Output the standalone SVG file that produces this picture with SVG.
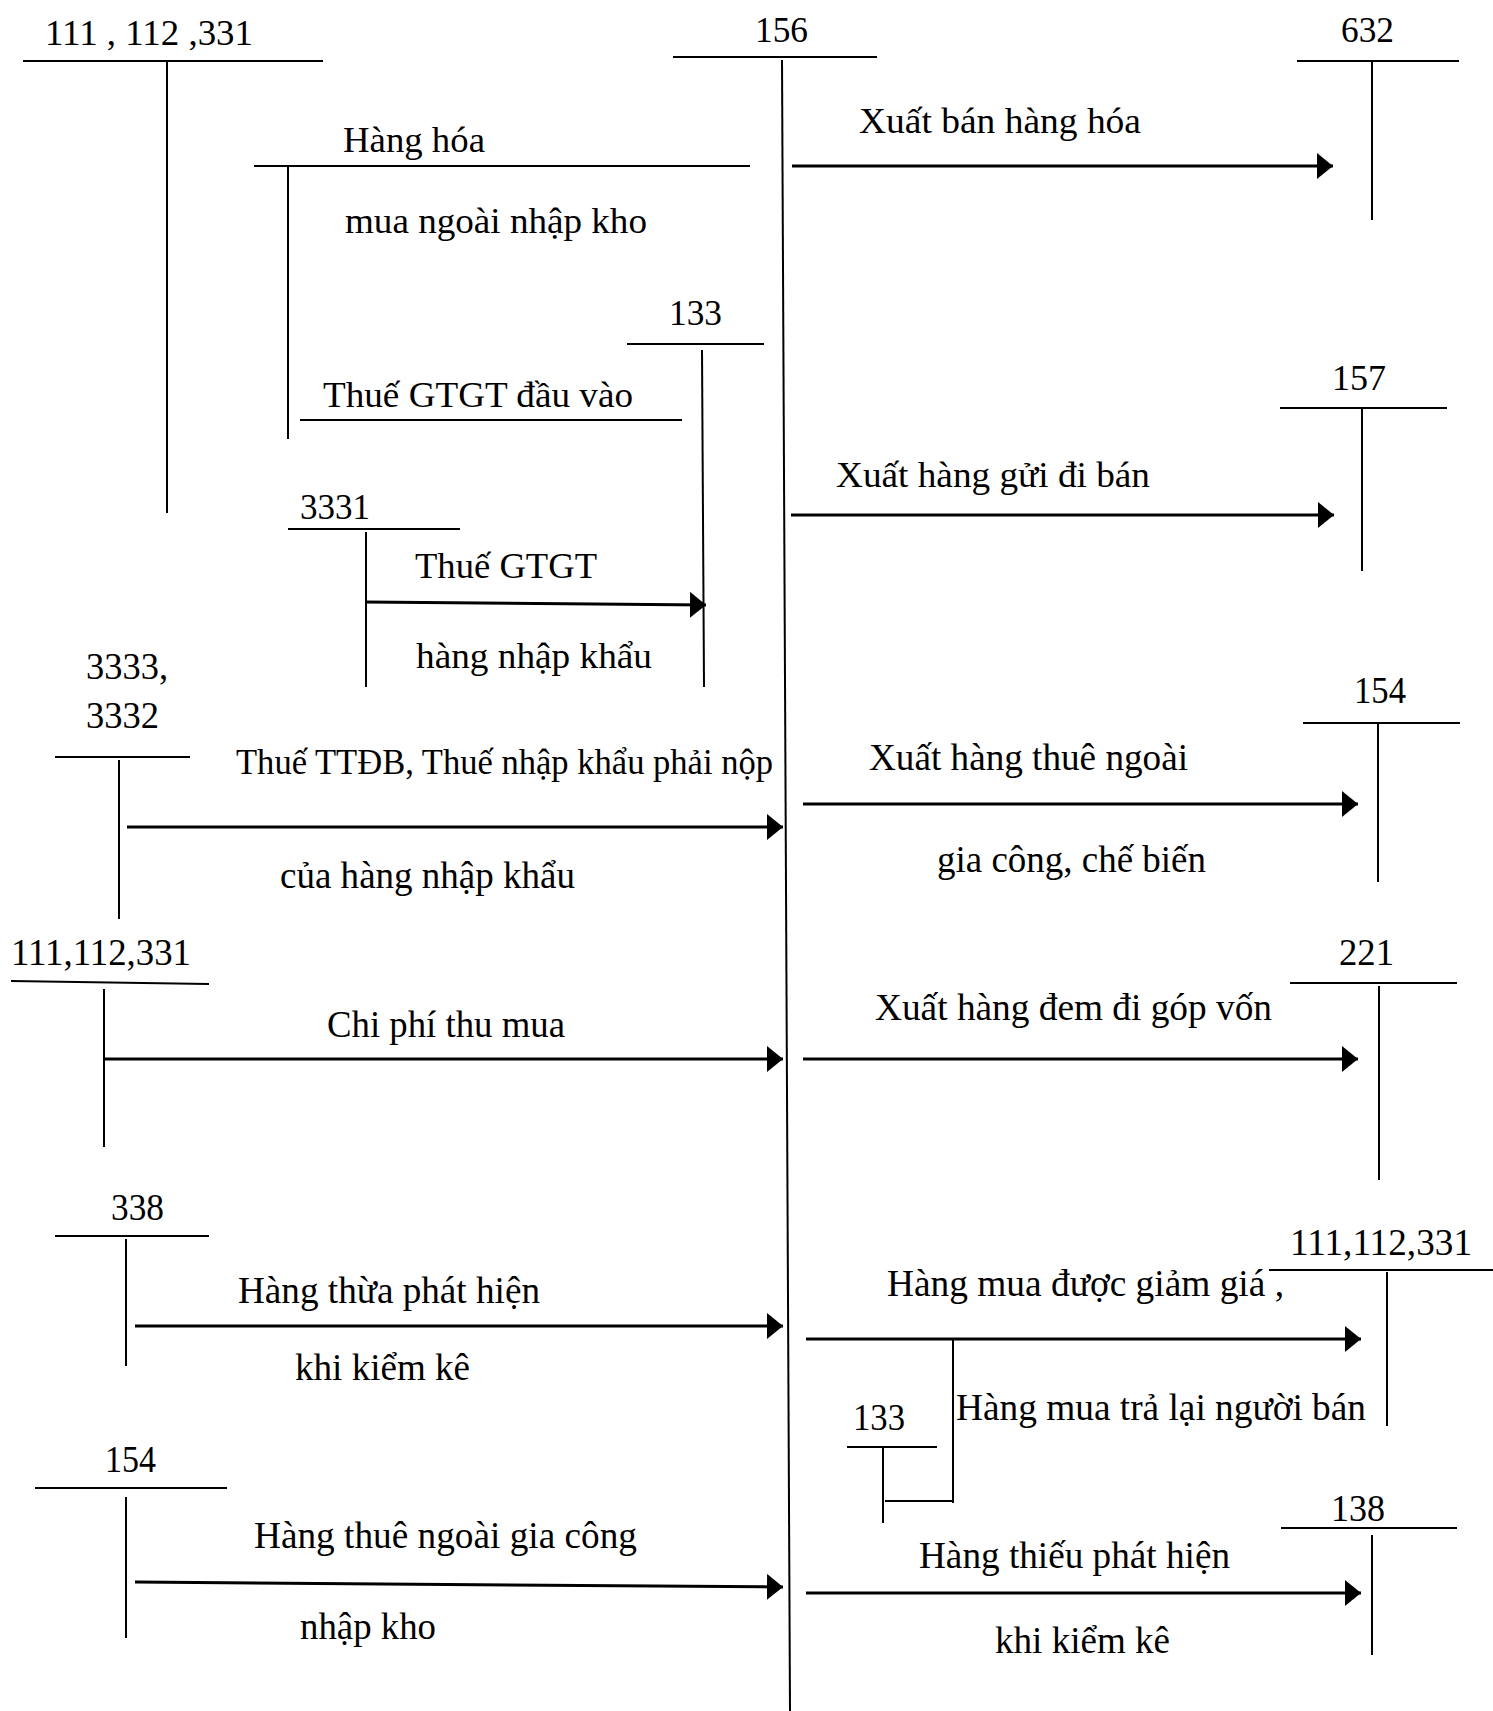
<svg xmlns="http://www.w3.org/2000/svg" width="1493" height="1711" viewBox="0 0 1493 1711">
<style>
text{font-family:"Liberation Serif","Times New Roman",serif;font-size:36px;fill:#000}
.lo{font-size:38px}
.sm{font-size:35px}
.t{stroke:#000;stroke-width:2;fill:none}
.a{stroke:#000;stroke-width:3;fill:none;marker-end:url(#ah)}
.c{stroke:#000;stroke-width:2;fill:none}
</style>
<defs>
<marker id="ah" markerUnits="userSpaceOnUse" markerWidth="16" markerHeight="26" refX="16" refY="13" orient="auto" viewBox="0 0 16 26">
<path d="M0,0 L16,13 L0,26 Z" fill="#000"/>
</marker>
</defs>
<rect width="1493" height="1711" fill="#fff"/>

<g id="acc-111-112-331-top">
<text x="45" y="45" textLength="208" lengthAdjust="spacingAndGlyphs">111 , 112 ,331</text>
<line class="t" x1="23" y1="61" x2="323" y2="61"/>
<line class="t" x1="167" y1="61" x2="167" y2="513"/>
</g>
<g id="acc-156">
<text x="755" y="42" textLength="53" lengthAdjust="spacingAndGlyphs">156</text>
<line class="t" x1="673" y1="57" x2="877" y2="57"/>
<line class="t" x1="782" y1="60" x2="790" y2="1711"/>
</g>
<g id="acc-632">
<text x="1341" y="42" textLength="53" lengthAdjust="spacingAndGlyphs">632</text>
<line class="t" x1="1297" y1="61" x2="1459" y2="61"/>
<line class="t" x1="1372" y1="61" x2="1372" y2="220"/>
</g>
<g id="acc-133-top">
<text x="669" y="325" textLength="53" lengthAdjust="spacingAndGlyphs">133</text>
<line class="t" x1="627" y1="344" x2="764" y2="344"/>
<line class="t" x1="702" y1="350" x2="704" y2="687"/>
</g>
<g id="acc-157">
<text x="1332" y="390" textLength="54" lengthAdjust="spacingAndGlyphs">157</text>
<line class="t" x1="1280" y1="408" x2="1447" y2="408"/>
<line class="t" x1="1362" y1="408" x2="1362" y2="571"/>
</g>
<g id="acc-3331">
<text x="300" y="519" textLength="70" lengthAdjust="spacingAndGlyphs">3331</text>
<line class="t" x1="288" y1="529" x2="460" y2="529"/>
<line class="t" x1="366" y1="532" x2="366" y2="687"/>
</g>
<g id="acc-3333-3332">
<text class="lo" x="86" y="679" textLength="82" lengthAdjust="spacingAndGlyphs">3333,</text>
<text class="lo" x="86" y="728" textLength="73" lengthAdjust="spacingAndGlyphs">3332</text>
<line class="t" x1="55" y1="757" x2="190" y2="757"/>
<line class="t" x1="119" y1="760" x2="119" y2="919"/>
</g>
<g id="acc-154-right">
<text class="lo" x="1354" y="703" textLength="52" lengthAdjust="spacingAndGlyphs">154</text>
<line class="t" x1="1303" y1="723" x2="1460" y2="723"/>
<line class="t" x1="1378" y1="723" x2="1378" y2="882"/>
</g>
<g id="acc-111-112-331-mid">
<text class="lo" x="11" y="965" textLength="180" lengthAdjust="spacingAndGlyphs">111,112,331</text>
<line class="t" x1="11" y1="981" x2="209" y2="984"/>
<line class="t" x1="104" y1="989" x2="104" y2="1147"/>
</g>
<g id="acc-221">
<text class="lo" x="1339" y="965" textLength="55" lengthAdjust="spacingAndGlyphs">221</text>
<line class="t" x1="1290" y1="983" x2="1457" y2="983"/>
<line class="t" x1="1379" y1="986" x2="1379" y2="1180"/>
</g>
<g id="acc-338">
<text class="lo" x="111" y="1220" textLength="53" lengthAdjust="spacingAndGlyphs">338</text>
<line class="t" x1="55" y1="1236" x2="209" y2="1236"/>
<line class="t" x1="126" y1="1239" x2="126" y2="1366"/>
</g>
<g id="acc-111-112-331-right">
<text class="lo" x="1290" y="1255" textLength="182" lengthAdjust="spacingAndGlyphs">111,112,331</text>
<line class="t" x1="1269" y1="1270" x2="1493" y2="1270"/>
<line class="t" x1="1387" y1="1272" x2="1387" y2="1426"/>
</g>
<g id="acc-133-bottom">
<text class="lo" x="853" y="1430" textLength="52" lengthAdjust="spacingAndGlyphs">133</text>
<line class="t" x1="847" y1="1447" x2="937" y2="1447"/>
<line class="t" x1="883" y1="1447" x2="883" y2="1523"/>
</g>
<g id="acc-154-left">
<text class="lo" x="105" y="1472" textLength="51" lengthAdjust="spacingAndGlyphs">154</text>
<line class="t" x1="35" y1="1488" x2="227" y2="1488"/>
<line class="t" x1="126" y1="1497" x2="126" y2="1638"/>
</g>
<g id="acc-138">
<text class="lo" x="1331" y="1521" textLength="54" lengthAdjust="spacingAndGlyphs">138</text>
<line class="t" x1="1281" y1="1528" x2="1457" y2="1528"/>
<line class="t" x1="1372" y1="1535" x2="1372" y2="1655"/>
</g>

<g id="connectors">
<line class="c" x1="254" y1="166" x2="750" y2="166"/>
<line class="c" x1="288" y1="166" x2="288" y2="439"/>
<line class="c" x1="300" y1="420" x2="682" y2="420"/>
<line class="a" x1="792" y1="166" x2="1333" y2="166"/>
<line class="a" x1="791" y1="515" x2="1334" y2="515"/>
<line class="a" x1="365" y1="602" x2="706" y2="605"/>
<line class="a" x1="127" y1="827" x2="783" y2="827"/>
<line class="a" x1="803" y1="804" x2="1358" y2="804"/>
<line class="a" x1="104" y1="1059" x2="783" y2="1059"/>
<line class="a" x1="803" y1="1059" x2="1358" y2="1059"/>
<line class="a" x1="135" y1="1326" x2="783" y2="1326"/>
<line class="a" x1="806" y1="1339" x2="1361" y2="1339"/>
<line class="c" x1="953" y1="1339" x2="953" y2="1503"/>
<line class="c" x1="885" y1="1501" x2="953" y2="1501"/>
<line class="a" x1="806" y1="1593" x2="1361" y2="1593"/>
<line class="a" x1="135" y1="1582" x2="783" y2="1587"/>
</g>

<g id="labels">
<text x="343" y="152" textLength="142" lengthAdjust="spacingAndGlyphs">Hàng hóa</text>
<text x="345" y="233" textLength="302" lengthAdjust="spacingAndGlyphs">mua ngoài nhập kho</text>
<text x="323" y="407" textLength="310" lengthAdjust="spacingAndGlyphs">Thuế GTGT đầu vào</text>
<text x="859" y="133" textLength="282" lengthAdjust="spacingAndGlyphs">Xuất bán hàng hóa</text>
<text x="836" y="487" textLength="314" lengthAdjust="spacingAndGlyphs">Xuất hàng gửi đi bán</text>
<text x="415" y="578" textLength="182" lengthAdjust="spacingAndGlyphs">Thuế GTGT</text>
<text x="416" y="668" textLength="236" lengthAdjust="spacingAndGlyphs">hàng nhập khẩu</text>
<text class="sm" x="236" y="774" textLength="537" lengthAdjust="spacingAndGlyphs">Thuế TTĐB, Thuế nhập khẩu phải nộp</text>
<text class="lo" x="280" y="888" textLength="295" lengthAdjust="spacingAndGlyphs">của hàng nhập khẩu</text>
<text class="lo" x="869" y="770" textLength="319" lengthAdjust="spacingAndGlyphs">Xuất hàng thuê ngoài</text>
<text class="lo" x="937" y="872" textLength="269" lengthAdjust="spacingAndGlyphs">gia công, chế biến</text>
<text class="lo" x="327" y="1037" textLength="238" lengthAdjust="spacingAndGlyphs">Chi phí thu mua</text>
<text class="lo" x="875" y="1020" textLength="397" lengthAdjust="spacingAndGlyphs">Xuất hàng đem đi góp vốn</text>
<text class="lo" x="238" y="1303" textLength="302" lengthAdjust="spacingAndGlyphs">Hàng thừa phát hiện</text>
<text class="lo" x="295" y="1380" textLength="175" lengthAdjust="spacingAndGlyphs">khi kiểm kê</text>
<text class="lo" x="887" y="1296" textLength="397" lengthAdjust="spacingAndGlyphs">Hàng mua được giảm giá ,</text>
<text class="lo" x="956" y="1420" textLength="410" lengthAdjust="spacingAndGlyphs">Hàng mua trả lại người bán</text>
<text class="lo" x="919" y="1568" textLength="311" lengthAdjust="spacingAndGlyphs">Hàng thiếu phát hiện</text>
<text class="lo" x="995" y="1653" textLength="175" lengthAdjust="spacingAndGlyphs">khi kiểm kê</text>
<text class="lo" x="254" y="1548" textLength="383" lengthAdjust="spacingAndGlyphs">Hàng thuê ngoài gia công</text>
<text class="lo" x="300" y="1639" textLength="136" lengthAdjust="spacingAndGlyphs">nhập kho</text>
</g>
</svg>
